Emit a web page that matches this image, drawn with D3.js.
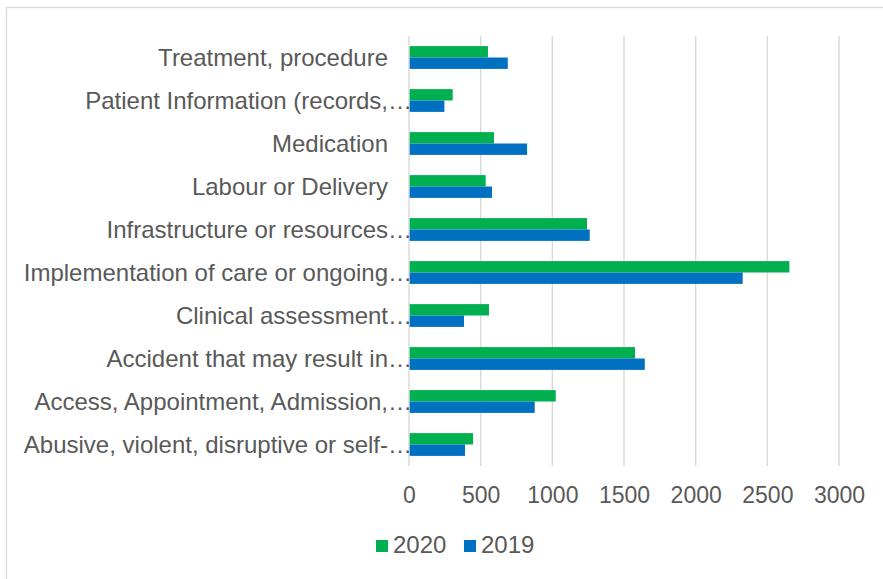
<!DOCTYPE html>
<html>
<head>
<meta charset="utf-8">
<script src="https://cdn.jsdelivr.net/npm/d3@7"></script>
<style>
  body { margin: 0; background: #fff; }
  svg { display: block; font-family: "Liberation Sans", Arial, sans-serif; }
</style>
</head>
<body>
<svg width="883" height="579"></svg>
<script>
// categories, top to bottom as drawn
var categories = [
  "Treatment, procedure",
  "Patient Information (records,…",
  "Medication",
  "Labour or Delivery",
  "Infrastructure or resources…",
  "Implementation of care or ongoing…",
  "Clinical assessment…",
  "Accident that may result in…",
  "Access, Appointment, Admission,…",
  "Abusive, violent, disruptive or self-…"
];
var values2020 = [546, 300, 588, 530, 1237, 2649, 553, 1572, 1019, 442];
var values2019 = [684, 242, 819, 574, 1256, 2323, 379, 1640, 872, 386];
var xTicks = [0, 500, 1000, 1500, 2000, 2500, 3000];
var seriesNames = ["2020", "2019"];
var colors = ["#00b050", "#0070c0"];

var svg = d3.select("svg");
var margin = {top: 36, left: 409, right: 44, bottom: 113};
var width = 883 - margin.left - margin.right,
    height = 579 - margin.top - margin.bottom;

// chart frame (only top and left show inside the picture)
svg.append("rect")
  .attr("x", 6.5).attr("y", 7.5)
  .attr("width", 1000).attr("height", 1000)
  .attr("fill", "none")
  .attr("stroke", "#d9d9d9")
  .attr("stroke-width", 1.3);

var x = d3.scaleLinear().domain([0, 3000]).range([0, width]);
var y = d3.scaleBand().domain(categories).range([0, height]).paddingInner(0.47).paddingOuter(0.235);
var ySub = d3.scaleBand().domain(seriesNames).range([0, y.bandwidth()]);

var g = svg.append("g").attr("transform", "translate(" + margin.left + "," + margin.top + ")");

// vertical gridlines
g.append("g")
  .selectAll("line")
  .data(xTicks)
  .enter().append("line")
  .attr("x1", d => x(d)).attr("x2", d => x(d))
  .attr("y1", 0).attr("y2", height)
  .attr("stroke", "#d9d9d9")
  .attr("stroke-width", 1.4);

// bars
var series = [values2020, values2019];
seriesNames.forEach(function(name, si) {
  g.append("g")
    .selectAll("rect")
    .data(series[si])
    .enter().append("rect")
    .attr("x", x(0) + 0.7)
    .attr("y", (d, i) => y(categories[i]) + ySub(name))
    .attr("width", d => x(d) - x(0))
    .attr("height", ySub.bandwidth())
    .attr("fill", colors[si]);
});

// x axis labels
var xAxis = d3.axisBottom(x).tickValues(xTicks).tickFormat(d3.format("d")).tickSize(0);
var xg = g.append("g").attr("transform", "translate(0," + height + ")").call(xAxis);
xg.select(".domain").remove();
xg.selectAll("text")
  .attr("fill", "#595959")
  .style("font-size", "23px")
  .attr("dy", "0")
  .attr("y", 36.5);

// category labels, the ellipsis hangs past the text end like in Excel
var labels = svg.append("g").selectAll("text")
  .data(categories)
  .enter().append("text")
  .attr("x", 388)
  .attr("y", d => margin.top + y(d) + y.bandwidth() / 2 + 8.5)
  .attr("fill", "#595959")
  .style("font-size", "24px");

labels.each(function(d) {
  var t = d3.select(this);
  if (d.endsWith("…")) {
    t.attr("text-anchor", "start");
    var main = t.append("tspan").text(d.slice(0, -1));
    var w = main.node().getComputedTextLength();
    t.attr("x", 388 - w);
    t.append("tspan").text("…");
  } else {
    t.attr("text-anchor", "end").text(d);
  }
});

// legend
var legend = svg.append("g");
var legendX = [376, 464];
seriesNames.forEach(function(name, i) {
  legend.append("rect")
    .attr("x", legendX[i]).attr("y", 540)
    .attr("width", 12).attr("height", 12)
    .attr("fill", colors[i]);
  legend.append("text")
    .attr("x", legendX[i] + 17).attr("y", 553)
    .attr("fill", "#595959")
    .style("font-size", "24px")
    .text(name);
});
</script>
</body>
</html>
